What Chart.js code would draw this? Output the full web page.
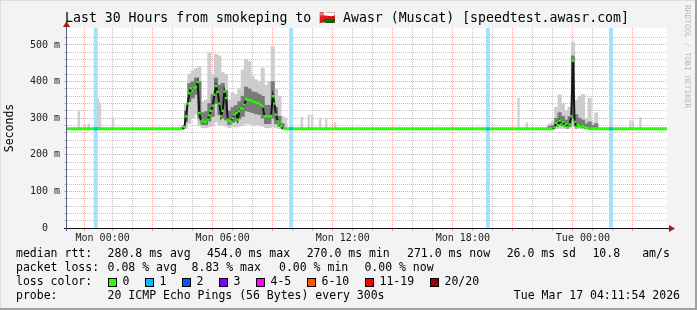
<!DOCTYPE html>
<html>
<head>
<meta charset="utf-8">
<script src="https://cdn.jsdelivr.net/npm/chart.js@4.4.1/dist/chart.umd.min.js"></script>
<style>
    html, body { margin: 0; padding: 0; background: #f3f3f3; }
</style>
</head>
<body>
<canvas id="smokeChart" width="697" height="310"></canvas>
<script>
// all times are hours relative to Mon 00:00
var graphStart = -1.78;   // Sun 22:13
var graphEnd = 28.2;      // Tue 04:12
var yTop = 546.4;
var baseRtt = 271;

var xTickHours = [0, 6, 12, 18, 24];
var xTickLabels = ["Mon 00:00", "Mon 06:00", "Mon 12:00", "Mon 18:00", "Tue 00:00"];
var yTickValues = [0, 100, 200, 300, 400, 500];
var yTickLabels = ["0  ", "100 m", "200 m", "300 m", "400 m", "500 m"];

// monday morning congestion: 5 minute medians from 04:00
var busyAStart = 4;
var busyAMedian = [271, 276, 305, 340, 368, 382, 376, 383, 386, 399,
    314, 291, 294, 290, 291, 296, 308, 320, 334, 364,
    388, 372, 340, 305, 320, 373, 355, 296, 293, 291,
    300, 309, 314, 296, 319, 326, 328, 336, 352, 350,
    348, 349, 346, 344, 343, 342, 340, 336, 332, 305,
    305, 305, 305, 306, 360, 340, 310, 291, 285, 278, 271];
// smoke for the same period, 10 minute steps from 04:00
var smokeAStart = 4;
var smokeAHi = [280, 340, 420, 430, 435, 440, 345, 350, 478, 420, 475, 470, 425, 420, 350, 370,
    365, 380, 432, 460, 455, 415, 405, 400, 437, 390, 400, 495, 380, 360, 305];
var smokeAQ3 = [274, 320, 395, 400, 410, 400, 315, 318, 340, 365, 410, 390, 395, 375, 320, 330,
    335, 345, 360, 385, 380, 372, 370, 365, 360, 335, 335, 400, 330, 305, 285];
var smokeAQ1 = [271, 290, 345, 355, 365, 300, 282, 282, 292, 305, 340, 310, 300, 295, 282, 288,
    292, 298, 305, 320, 318, 315, 312, 310, 300, 285, 285, 300, 285, 278, 272];
var smokeALo = [270, 272, 285, 300, 310, 280, 274, 274, 276, 280, 290, 282, 280, 278, 274, 276,
    276, 278, 280, 285, 284, 282, 282, 280, 278, 274, 274, 276, 274, 272, 270];

// around tuesday midnight: 5 minute medians from 22:30
var busyBStart = 22.5;
var busyBMedian = [271, 275, 287, 281, 293, 283, 290, 280, 285, 276, 283, 305, 457,
    290, 276, 281, 279, 276, 278, 275, 274, 273, 272, 272, 271];
var smokeBStart = 22 + 20 / 60;
var smokeBHi = [285, 290, 330, 364, 340, 320, 330, 508, 350, 360, 365, 300, 355, 290, 315];
var smokeBQ3 = [278, 280, 300, 315, 305, 295, 305, 470, 310, 300, 295, 285, 290, 280, 285];
var smokeBQ1 = [271, 272, 278, 282, 280, 276, 278, 300, 278, 276, 275, 273, 273, 272, 272];
var smokeBLo = [270, 270, 271, 272, 272, 271, 272, 276, 272, 271, 271, 270, 270, 270, 270];

// lone slow pings elsewhere
var spikeHours = [-1.19, -0.89, -0.69, -0.22, -0.13, 0.52, 9.17, 9.95, 10.3, 10.47,
    10.87, 11.17, 11.62, 20.78, 21.2, 25.39, 26.37, 26.5, 26.87];
var spikeHi = [318, 282, 285, 353, 340, 301, 300, 302, 309, 309,
    300, 296, 288, 355, 288, 296, 293, 290, 302];

// steps with one lost ping
var lossHours = [-0.34, 9.42, 19.25, 25.4];
var lossMedian = [271, 272, 271, 271];

var rttStats = ["280.8 ms avg", "454.0 ms max", "270.0 ms min", "271.0 ms now", "26.0 ms sd", "10.8", "am/s"];
var lossStats = ["0.08 % avg", "8.83 % max", "0.00 % min", "0.00 % now"];
var lossLabels = ["0", "1", "2", "3", "4-5", "6-10", "11-19", "20/20"];
var lossColors = ["#26ff00", "#00b8ff", "#0059ff", "#7e00ff", "#ff00ff", "#ff5500", "#ff0000", "#a10000"];
var probeText = "20 ICMP Echo Pings (56 Bytes) every 300s";
var stampText = "Tue Mar 17 04:11:54 2026";
var titleText = "Last 30 Hours from smokeping to 🇴🇲 Awasr (Muscat) [speedtest.awasr.com]";

var MONO = "'DejaVu Sans Mono', 'Liberation Mono', monospace";
var step5 = 5 / 60, step10 = 10 / 60;

var medianPts = [{ x: graphStart, y: baseRtt }];
busyAMedian.forEach(function (v, i) { medianPts.push({ x: busyAStart + i * step5, y: v }); });
busyBMedian.forEach(function (v, i) { medianPts.push({ x: busyBStart + i * step5, y: v }); });
medianPts.push({ x: graphEnd, y: baseRtt });

var outerPts = [], midPts = [];
function addSmoke(start, hi, q3, q1, lo) {
    for (var i = 0; i < hi.length; i++) {
        outerPts.push({ x: start + i * step10, y: [lo[i], hi[i]] });
        midPts.push({ x: start + i * step10, y: [q1[i], q3[i]] });
    }
}
addSmoke(smokeAStart, smokeAHi, smokeAQ3, smokeAQ1, smokeALo);
addSmoke(smokeBStart, smokeBHi, smokeBQ3, smokeBQ1, smokeBLo);

var spikePts = spikeHours.map(function (h, i) { return { x: h, y: [baseRtt, spikeHi[i]] }; });
var lossBandPts = lossHours.map(function (h) { return { x: h, y: [0, yTop] }; });
var lossMedPts = lossHours.map(function (h, i) { return { x: h, y: lossMedian[i] }; });

function busy(v) { return v > baseRtt + 1; }

var chrome = {
    id: 'chrome',
    beforeDraw: function (c) {
        var ctx = c.ctx, a = c.chartArea;
        ctx.save();
        ctx.fillStyle = '#f3f3f3';
        ctx.fillRect(0, 0, c.width, c.height);
        ctx.fillStyle = '#ffffff';
        ctx.fillRect(a.left, a.top, a.right - a.left, a.bottom - a.top);
        ctx.fillStyle = '#dedede';
        ctx.fillRect(0, 0, c.width, 1);
        ctx.fillRect(0, 0, 1, c.height);
        ctx.fillStyle = '#a0a0a0';
        ctx.fillRect(c.width - 2, 0, 2, c.height);
        ctx.fillRect(0, c.height - 2, c.width, 2);
        ctx.restore();
    },
    afterDraw: function (c) {
        var ctx = c.ctx, a = c.chartArea;
        ctx.save();
        // axes with arrows
        ctx.lineWidth = 1;
        ctx.strokeStyle = '#111';
        ctx.beginPath();
        ctx.moveTo(a.left - 3, a.bottom + 0.5);
        ctx.lineTo(a.right + 3, a.bottom + 0.5);
        ctx.stroke();
        ctx.strokeStyle = '#4f5d86';
        ctx.beginPath();
        ctx.moveTo(a.left - 0.5, a.bottom + 3);
        ctx.lineTo(a.left - 0.5, a.top - 2);
        ctx.stroke();
        ctx.fillStyle = '#a01c1c';
        ctx.beginPath();
        ctx.moveTo(a.right + 2, a.bottom - 3);
        ctx.lineTo(a.right + 8, a.bottom + 0.5);
        ctx.lineTo(a.right + 2, a.bottom + 4);
        ctx.fill();
        ctx.beginPath();
        ctx.moveTo(a.left - 4, a.top - 1);
        ctx.lineTo(a.left - 0.5, a.top - 7);
        ctx.lineTo(a.left + 3, a.top - 1);
        ctx.fill();

        ctx.fillStyle = '#000';
        ctx.textBaseline = 'middle';
        // title
        ctx.font = '13.2px ' + MONO;
        ctx.textAlign = 'center';
        ctx.fillText(titleText, 347, 19);
        // y axis title
        ctx.font = '11.5px ' + MONO;
        ctx.save();
        ctx.translate(10, 128);
        ctx.rotate(-Math.PI / 2);
        ctx.fillText('Seconds', 0, 0);
        ctx.restore();
        // rrdtool credit
        ctx.save();
        ctx.fillStyle = '#b8b8b8';
        ctx.font = '7.8px ' + MONO;
        ctx.translate(687, 5);
        ctx.rotate(Math.PI / 2);
        ctx.textAlign = 'left';
        ctx.fillText('RRDTOOL / TOBI OETIKER', 0, 0);
        ctx.restore();

        // legend block
        ctx.font = '11.5px ' + MONO;
        ctx.textAlign = 'left';
        var rows = [254, 268, 282, 296];
        ctx.fillText('median rtt:', 16, rows[0]);
        [107.6, 207, 306.7, 407, 506.7, 592.4, 642.2].forEach(function (x, i) {
            ctx.fillText(rttStats[i], x, rows[0]);
        });
        ctx.fillText('packet loss:', 16, rows[1]);
        [107.6, 191.6, 279, 364.4].forEach(function (x, i) {
            ctx.fillText(lossStats[i], x, rows[1]);
        });
        ctx.fillText('loss color:', 16, rows[2]);
        [108, 145, 182, 219, 256, 307, 365, 430].forEach(function (x, i) {
            ctx.fillStyle = lossColors[i];
            ctx.fillRect(x, rows[2] - 4, 8, 8);
            ctx.strokeStyle = '#000';
            ctx.strokeRect(x + 0.5, rows[2] - 3.5, 8, 8);
            ctx.fillStyle = '#000';
            ctx.fillText(lossLabels[i], x + 14.5, rows[2]);
        });
        ctx.fillText('probe:', 16, rows[3]);
        ctx.fillText(probeText, 107.6, rows[3]);
        ctx.textAlign = 'right';
        ctx.fillText(stampText, 680, rows[3]);
        ctx.restore();
    }
};

var ctx = document.getElementById('smokeChart').getContext('2d');
var myChart = new Chart(ctx, {
    type: 'bar',
    data: {
        datasets: [{
            type: 'line',
            label: 'median rtt',
            data: medianPts,
            order: 1,
            borderColor: '#26ff00',
            borderWidth: 3,
            tension: 0,
            segment: {
                borderColor: function (s) { return (busy(s.p0.parsed.y) || busy(s.p1.parsed.y)) ? '#151515' : '#26ff00'; },
                borderWidth: function (s) { return (busy(s.p0.parsed.y) || busy(s.p1.parsed.y)) ? 2 : 3; }
            },
            pointStyle: 'rect',
            pointRadius: function (p) { return p.raw && busy(p.raw.y) ? 1.7 : 0; },
            pointBackgroundColor: '#26ff00',
            pointBorderWidth: 0
        }, {
            type: 'line',
            label: 'loss',
            data: lossMedPts,
            order: 0,
            showLine: false,
            pointStyle: 'rect',
            pointRadius: 2.2,
            pointBackgroundColor: '#00b8ff',
            pointBorderWidth: 0
        }, {
            label: 'smoke core',
            data: midPts,
            order: 3,
            backgroundColor: '#7a7a7a',
            barThickness: 3.4
        }, {
            label: 'smoke',
            data: outerPts,
            order: 4,
            backgroundColor: '#cdcdcd',
            barThickness: 3.4
        }, {
            label: 'single pings',
            data: spikePts,
            order: 4,
            backgroundColor: '#d0d0d0',
            barThickness: 1.7
        }, {
            label: 'loss band',
            data: lossBandPts,
            order: 6,
            backgroundColor: '#a8e2f8',
            barThickness: 3.4
        }]
    },
    options: {
        responsive: false,
        animation: false,
        devicePixelRatio: 1,
        layout: { padding: { left: 0, top: 28, right: 30, bottom: 0 } },
        datasets: { bar: { grouped: false, borderWidth: 0 } },
        plugins: { legend: { display: false }, tooltip: { enabled: false }, title: { display: false } },
        scales: {
            x: {
                type: 'linear',
                min: graphStart,
                max: graphEnd,
                offset: false,
                afterFit: function (s) { s.height = 82; },
                grid: {
                    lineWidth: 1,
                    tickLength: 3,
                    color: function (g) {
                        var v = g.tick ? g.tick.value : NaN;
                        if (!Number.isInteger(v) || v === graphStart) return 'rgba(0,0,0,0)';
                        return v % 3 === 0 ? '#f0a0a0' : '#c4c4c4';
                    }
                },
                border: { display: false, dash: [1, 1] },
                ticks: {
                    stepSize: 1,
                    autoSkip: false,
                    maxRotation: 0,
                    padding: 1,
                    color: '#222',
                    font: { family: MONO, size: 10 },
                    callback: function (v) {
                        var i = xTickHours.indexOf(v);
                        return i >= 0 ? xTickLabels[i] : '';
                    }
                }
            },
            y: {
                min: 0,
                max: yTop,
                afterFit: function (s) { s.width = 67; },
                grid: {
                    lineWidth: 1,
                    tickLength: 3,
                    color: function (g) {
                        var v = g.tick ? g.tick.value : NaN;
                        if (!Number.isInteger(v) || v % 20 !== 0) return 'rgba(0,0,0,0)';
                        return v % 100 === 0 ? '#f0a0a0' : '#c4c4c4';
                    }
                },
                border: { display: false, dash: [1, 1] },
                ticks: {
                    stepSize: 20,
                    autoSkip: false,
                    padding: 4,
                    color: '#222',
                    font: { family: MONO, size: 10 },
                    callback: function (v) {
                        var i = yTickValues.indexOf(v);
                        return i >= 0 ? yTickLabels[i] : '';
                    }
                }
            }
        }
    },
    plugins: [chrome]
});
</script>
</body>
</html>
